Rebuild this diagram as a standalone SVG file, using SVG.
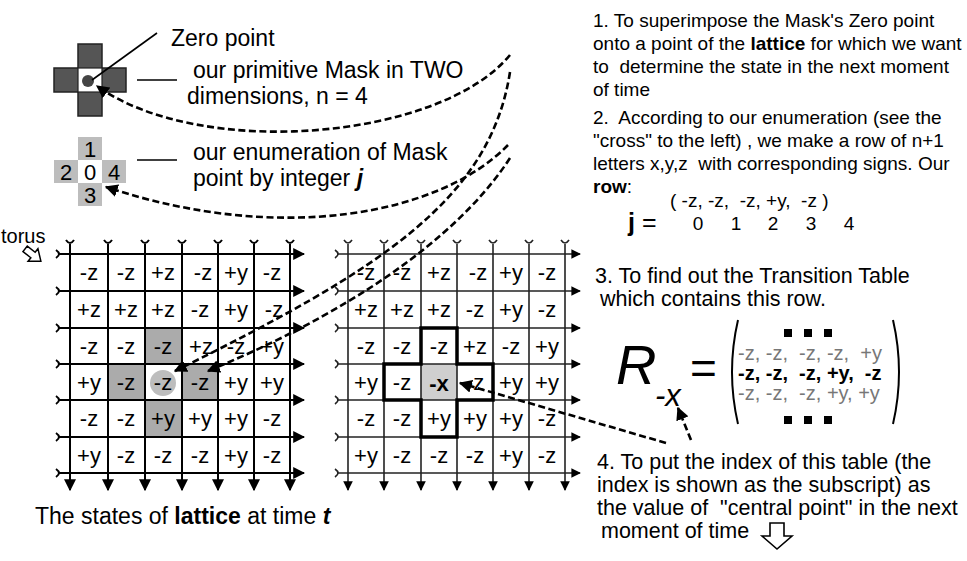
<svg xmlns="http://www.w3.org/2000/svg" width="967" height="561" viewBox="0 0 967 561">
<style>
text{font-family:"Liberation Sans",Arial,sans-serif;fill:#000}
.t{font-size:19px}
.t2{font-size:21.5px}
.l{font-size:23px}
.c{font-size:22px;text-anchor:middle}
.g{fill:#aaaaaa}
.gl{stroke:#000;stroke-width:2;fill:none}
.gr{stroke:#222;stroke-width:1.6;fill:none}
.dash{stroke:#000;stroke-width:2.6;fill:none;stroke-dasharray:7 3.5}
.b{font-weight:bold}
.m{font-size:20px}
.mg{fill:#777}
</style>
<defs>
<marker id="ah" viewBox="0 0 10 10" refX="9" refY="5" markerWidth="5" markerHeight="5" orient="auto" markerUnits="strokeWidth">
<path d="M0,0 L10,5 L0,10 Z" fill="#000"/>
</marker>
<marker id="ga" viewBox="0 0 10 10" refX="9" refY="5" markerWidth="6" markerHeight="6" orient="auto" markerUnits="strokeWidth">
<path d="M0,0 L10,5 L0,10 Z" fill="#000"/>
</marker>
</defs>

<!-- Mask -->
<g id="mask">
<path d="M78,44 H102 V68 H126 V92 H102 V116 H78 V92 H54 V68 H78 Z" fill="#555" stroke="#222" stroke-width="1.5"/>
<rect x="78" y="68" width="24" height="24" fill="#fff" stroke="#222" stroke-width="1.2"/>
<circle cx="88" cy="81" r="6" fill="#444"/>
</g>
<g id="zero-label">
<line x1="157" y1="33" x2="92" y2="80" stroke="#000" stroke-width="1.6"/>
<text class="l" x="171" y="46" font-size="22">Zero point</text>
</g>
<g id="mask-label">
<line x1="137" y1="80" x2="177" y2="80" stroke="#000" stroke-width="1.6"/>
<text class="l" x="193" y="78">our primitive Mask in TWO</text>
<text class="l" x="187" y="104">dimensions, n = 4</text>
</g>

<!-- Enumeration -->
<g id="enum">
<rect x="78" y="137" width="24" height="23" fill="#bdbdbd"/>
<rect x="54" y="160" width="24" height="23" fill="#bdbdbd"/>
<rect x="102" y="160" width="24" height="23" fill="#bdbdbd"/>
<rect x="78" y="183" width="24" height="23" fill="#bdbdbd"/>
<text class="c" x="90" y="157" font-size="21">1</text>
<text class="c" x="66" y="180" font-size="21">2</text>
<text class="c" x="90" y="180" font-size="21">0</text>
<text class="c" x="114" y="180" font-size="21">4</text>
<text class="c" x="90" y="203" font-size="21">3</text>
</g>
<g id="enum-label">
<line x1="137" y1="160" x2="177" y2="160" stroke="#000" stroke-width="1.6"/>
<text class="l" x="193" y="160">our enumeration of Mask</text>
<text class="l" x="193" y="186">point by integer <tspan class="b" font-style="italic">j</tspan></text>
</g>

<!-- torus -->
<g id="torus">
<text x="1" y="243" font-size="20">torus</text>
<polygon points="-10,-3.5 0,-3.5 0,-8 10,0 0,8 0,3.5 -10,3.5" transform="translate(33,255) rotate(38)" fill="#fff" stroke="#000" stroke-width="1.5"/>
</g>

<!-- Left lattice -->
<g id="lattice-left">
<rect x="145" y="328" width="37" height="36" fill="#ababab"/>
<rect x="108" y="364" width="37" height="36" fill="#ababab"/>
<rect x="182" y="364" width="36" height="36" fill="#ababab"/>
<rect x="145" y="400" width="37" height="37" fill="#ababab"/>
<circle cx="163" cy="383" r="13" fill="#bdbdbd"/>
<g class="gl" marker-end="url(#ga)">
<path d="M58,254 H304"/><path d="M58,291 H304"/><path d="M58,328 H304"/><path d="M58,364 H304"/><path d="M58,400 H304"/><path d="M58,437 H304"/><path d="M58,473 H304"/>
<path d="M70,244 V490"/><path d="M108,244 V490"/><path d="M145,244 V490"/><path d="M182,244 V490"/><path d="M218,244 V490"/><path d="M254,244 V490"/><path d="M290,244 V490"/>
</g>
<g class="gl" stroke-width="1.6">
<path d="M66,240 Q70,246 74,240"/><path d="M104,240 Q108,246 112,240"/><path d="M141,240 Q145,246 149,240"/><path d="M178,240 Q182,246 186,240"/><path d="M214,240 Q218,246 222,240"/><path d="M250,240 Q254,246 258,240"/><path d="M286,240 Q290,246 294,240"/>
<path d="M56,250 Q62,254 56,258"/><path d="M56,287 Q62,291 56,295"/><path d="M56,324 Q62,328 56,332"/><path d="M56,360 Q62,364 56,368"/><path d="M56,396 Q62,400 56,404"/><path d="M56,433 Q62,437 56,441"/><path d="M56,469 Q62,473 56,477"/>
</g>
<g class="c">
<text x="89" y="280">-z</text><text x="126" y="280">-z</text><text x="163" y="280">+z</text><text x="203" y="280">-z</text><text x="236" y="280">+y</text><text x="272" y="280">-z</text>
<text x="89" y="317">+z</text><text x="126" y="317">+z</text><text x="163" y="317">+z</text><text x="200" y="317">-z</text><text x="236" y="317">+y</text><text x="274" y="317">-z</text>
<text x="89" y="354">-z</text><text x="126" y="354">-z</text><text x="163" y="354">-z</text><text x="201" y="354">+z</text><text x="236" y="354">-z</text><text x="272" y="354">+y</text>
<text x="89" y="390">+y</text><text x="126" y="390">-z</text><text x="163" y="390">-z</text><text x="200" y="390">-z</text><text x="236" y="390">+y</text><text x="272" y="390">+y</text>
<text x="89" y="426">-z</text><text x="126" y="426">-z</text><text x="163" y="426">+y</text><text x="200" y="426">+y</text><text x="236" y="426">+y</text><text x="272" y="426">-z</text>
<text x="89" y="463">+y</text><text x="126" y="463">-z</text><text x="163" y="463">-z</text><text x="200" y="463">-z</text><text x="236" y="463">+y</text><text x="272" y="463">-z</text>
</g>
</g>
<g id="caption">
<text class="l" x="35" y="524" font-size="21">The states of <tspan class="b">lattice</tspan> at time <tspan class="b" font-style="italic">t</tspan></text>
</g>

<!-- Right lattice -->
<g id="lattice-right">
<rect x="421" y="364" width="36" height="36" fill="#cfcfcf"/>
<g class="gr" marker-end="url(#ga)">
<path d="M337,254 H580"/><path d="M337,291 H580"/><path d="M337,328 H580"/><path d="M337,364 H580"/><path d="M337,400 H580"/><path d="M337,437 H580"/><path d="M337,473 H580"/>
<path d="M348,244 V490"/><path d="M384,244 V490"/><path d="M421,244 V490"/><path d="M457,244 V490"/><path d="M493,244 V490"/><path d="M529,244 V490"/><path d="M565,244 V490"/>
</g>
<g class="gr" stroke-width="1.4">
<path d="M344,240 Q348,246 352,240"/><path d="M380,240 Q384,246 388,240"/><path d="M417,240 Q421,246 425,240"/><path d="M453,240 Q457,246 461,240"/><path d="M489,240 Q493,246 497,240"/><path d="M525,240 Q529,246 533,240"/><path d="M561,240 Q565,246 569,240"/>
<path d="M335,250 Q341,254 335,258"/><path d="M335,287 Q341,291 335,295"/><path d="M335,324 Q341,328 335,332"/><path d="M335,360 Q341,364 335,368"/><path d="M335,396 Q341,400 335,404"/><path d="M335,433 Q341,437 335,441"/><path d="M335,469 Q341,473 335,477"/>
</g>
<path d="M421,328 H457 V364 H493 V400 H457 V437 H421 V400 H384 V364 H421 Z" fill="none" stroke="#000" stroke-width="3.5"/>
<g class="c g">
<text x="366" y="280">-z</text><text x="402" y="280">-z</text><text x="439" y="280">+z</text><text x="478" y="280">-z</text><text x="511" y="280">+y</text><text x="547" y="280">-z</text>
<text x="366" y="317">+z</text><text x="402" y="317">+z</text><text x="439" y="317">+z</text><text x="475" y="317">-z</text><text x="511" y="317">+y</text><text x="547" y="317">-z</text>
<text x="366" y="354">-z</text><text x="402" y="354">-z</text><text x="439" y="354">-z</text><text x="475" y="354">+z</text><text x="511" y="354">-z</text><text x="547" y="354">+y</text>
<text x="366" y="390">+y</text><text x="402" y="390">-z</text><text x="475" y="390">-z</text><text x="511" y="390">+y</text><text x="547" y="390">+y</text>
<text x="366" y="426">-z</text><text x="402" y="426">-z</text><text x="439" y="426">+y</text><text x="475" y="426">+y</text><text x="511" y="426">+y</text><text x="547" y="426">-z</text>
<text x="366" y="463">+y</text><text x="402" y="463">-z</text><text x="439" y="463">-z</text><text x="475" y="463">-z</text><text x="511" y="463">+y</text><text x="547" y="463">-z</text>
</g>
<text class="c b" x="439" y="391" font-size="26">-x</text>
</g>

<!-- Right column text -->
<g id="step1">
<text class="t" x="593" y="27">1. To superimpose the Mask's Zero point</text>
<text class="t" x="593" y="50">onto a point of the <tspan class="b">lattice</tspan> for which we want</text>
<text class="t" x="593" y="73" xml:space="preserve">to  determine the state in the next moment</text>
<text class="t" x="593" y="96">of time</text>
</g>
<g id="step2">
<text class="t" x="593" y="124" xml:space="preserve">2.  According to our enumeration (see the</text>
<text class="t" x="593" y="147">"cross" to the left) , we make a row of n+1</text>
<text class="t" x="593" y="170" xml:space="preserve">letters x,y,z  with corresponding signs. Our</text>
<text class="t" x="593" y="193"><tspan class="b">row</tspan>:</text>
<text class="t" x="670" y="207" xml:space="preserve">( -z, -z,  -z, +y,  -z )</text>
<text x="628" y="231" font-size="25" font-weight="bold">j</text>
<text x="642" y="231" font-size="25">=</text>
<g class="t" text-anchor="middle">
<text x="698" y="230">0</text><text x="736" y="230">1</text><text x="773" y="230">2</text><text x="811" y="230">3</text><text x="849" y="230">4</text>
</g>
</g>
<g id="step3">
<text class="t2" x="595" y="283">3. To find out the Transition Table</text>
<text class="t2" x="600" y="306">which contains this row.</text>
</g>
<g id="table">
<text x="616" y="384" font-size="56" font-style="italic">R</text>
<text x="655" y="406" font-size="31" font-style="italic">-x</text>
<text x="690" y="384" font-size="46">=</text>
<path d="M738,320 Q726,372 738,424" fill="none" stroke="#000" stroke-width="2"/>
<path d="M893,320 Q905,372 893,424" fill="none" stroke="#000" stroke-width="2"/>
<rect x="784" y="329" width="8" height="8"/><rect x="804" y="329" width="8" height="8"/><rect x="824" y="329" width="8" height="8"/>
<rect x="784" y="416" width="8" height="8"/><rect x="804" y="416" width="8" height="8"/><rect x="824" y="416" width="8" height="8"/>
<text class="m mg" x="738" y="360" xml:space="preserve">-z, -z,  -z, -z,  +y</text>
<text class="m b" x="738" y="380" xml:space="preserve">-z, -z,  -z, +y,  -z</text>
<text class="m mg" x="738" y="400" xml:space="preserve">-z, -z,  -z, +y, +y</text>
</g>
<g id="step4">
<text class="t2" x="597" y="469">4. To put the index of this table (the</text>
<text class="t2" x="597" y="492">index is shown as the subscript) as</text>
<text class="t2" x="597" y="515" xml:space="preserve">the value of  "central point" in the next</text>
<text class="t2" x="601" y="538">moment of time</text>
<polygon points="-12,-7 1,-7 1,-15 14,0 1,15 1,7 -12,7" transform="translate(777,535) rotate(90)" fill="#fff" stroke="#000" stroke-width="1.6"/>
</g>

<!-- connectors -->
<g id="connectors" class="dash" marker-end="url(#ah)">
<path d="M510,55 C440,140 200,160 97,86"/>
<path d="M508,145 C440,215 280,245 106,187"/>
<path d="M510,72 C490,200 380,270 175,371"/>
<path d="M510,158 C470,220 380,300 208,371"/>
<path d="M666,443 L460,383"/>
<path d="M691,440 L678,408"/>
</g>
</svg>
